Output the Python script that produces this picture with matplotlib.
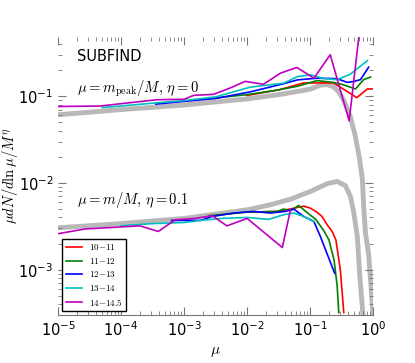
import numpy as np
import matplotlib
matplotlib.use('Agg')
import matplotlib.pyplot as plt

plt.rcParams['mathtext.fontset'] = 'cm'

# model curves (gray), log10(mu) and values
gray_top_lx = [-5, -4, -3, -2, -1.5, -1.0, -0.835, -0.73, -0.63, -0.55, -0.47, -0.36, -0.28, -0.215,
               -0.17, -0.146, -0.12, -0.07, -0.03, 0.0]
gray_top_y = [0.061, 0.070, 0.079, 0.093, 0.104, 0.120, 0.134, 0.136, 0.128, 0.113, 0.091, 0.058, 0.034,
              0.019, 0.011, 0.0049, 0.0026, 0.0015, 0.0006, 0.0003]
gray_bot_lx = [-5, -4, -3, -2, -1.63, -1.31, -0.99, -0.73, -0.57, -0.44, -0.36, -0.305, -0.25, -0.21, -0.16]
gray_bot_y = [0.00304, 0.0034, 0.0039, 0.0049, 0.0056, 0.0065, 0.0080, 0.0098, 0.0104, 0.0093, 0.0070,
              0.0045, 0.0024, 0.00083, 0.0003]

labels = [r'$10{-}11$', r'$11{-}12$', r'$12{-}13$', r'$13{-}14$', r'$14{-}14.5$']
colors = ['r', 'g', 'b', 'c', 'm']

# mu = m_peak/M, eta = 0
top_lx = [
    [-2.0, -1.5, -1.1, -0.63, -0.4, -0.26, -0.09, 0.0],
    [-2.6, -2.0, -1.5, -1.2, -0.89, -0.63, -0.47, -0.28, -0.15, -0.04],
    [-3.45, -3.0, -2.5, -1.95, -1.42, -1.2, -0.89, -0.57, -0.41, -0.3, -0.2, -0.07],
    [-4.3, -4.0, -3.5, -3.0, -2.5, -1.95, -1.42, -1.2, -0.99, -0.78, -0.57, -0.36, -0.09],
    [-5.0, -4.33, -3.43, -3.0, -2.85, -2.53, -2.27, -2.03, -1.74, -1.47, -1.21, -0.94, -0.68, -0.38, -0.2],
]
top_y = [
    [0.102, 0.118, 0.142, 0.142, 0.112, 0.096, 0.121, 0.121],
    [0.094, 0.104, 0.118, 0.130, 0.151, 0.144, 0.135, 0.121, 0.155, 0.166],
    [0.081, 0.087, 0.094, 0.112, 0.139, 0.154, 0.161, 0.159, 0.144, 0.148, 0.155, 0.216],
    [0.074, 0.077, 0.083, 0.089, 0.098, 0.127, 0.141, 0.168, 0.176, 0.159, 0.155, 0.179, 0.257],
    [0.076, 0.077, 0.091, 0.092, 0.102, 0.105, 0.124, 0.148, 0.137, 0.184, 0.214, 0.161, 0.30, 0.052, 0.70],
]

# mu = m/M, eta = 0.1
bot_lx = [
    [-2.0, -1.5, -1.10, -0.99, -0.89, -0.81, -0.73, -0.65, -0.59, -0.52, -0.465],
    [-2.6, -2.0, -1.52, -1.42, -1.31, -1.18, -1.07, -0.91, -0.78, -0.70, -0.62, -0.57, -0.545],
    [-3.2, -2.74, -2.556, -2.21, -1.9, -1.63, -1.39, -1.26, -1.10, -0.94, -0.835, -0.755, -0.61],
    [-4.0, -3.5, -3.0, -2.74, -2.4, -2.0, -1.66, -1.42, -1.26, -1.10, -0.94],
    [-5.0, -4.57, -3.70, -3.41, -3.14, -2.82, -2.556, -2.32, -2.0, -1.44, -1.31],
]
bot_y = [
    [0.0046, 0.0047, 0.0054, 0.0051, 0.0046, 0.0041, 0.0033, 0.00276, 0.0022, 0.0010, 0.00032],
    [0.0042, 0.0046, 0.0047, 0.0050, 0.0048, 0.0055, 0.0047, 0.0038, 0.0028, 0.0022, 0.0013, 0.00065, 0.00032],
    [0.0037, 0.0037, 0.0041, 0.0045, 0.0047, 0.0045, 0.0047, 0.0050, 0.0041, 0.0036, 0.0024, 0.0017, 0.00091],
    [0.0032, 0.0034, 0.0035, 0.0037, 0.0039, 0.0040, 0.0038, 0.0043, 0.0045, 0.0041, 0.0036],
    [0.0026, 0.00295, 0.0032, 0.00276, 0.00376, 0.0039, 0.0042, 0.0032, 0.0039, 0.0018, 0.0050],
]

fig = plt.figure(figsize=(4.15, 3.63), dpi=100)
ax = fig.add_axes([0.14, 0.132, 0.759, 0.766])

ax.plot(10 ** np.array(gray_top_lx), gray_top_y, color='#b8b8b8', lw=3.5, zorder=1)
ax.plot(10 ** np.array(gray_bot_lx), gray_bot_y, color='#b8b8b8', lw=3.5, zorder=1)

for i in range(5):
    ax.plot(10 ** np.array(top_lx[i]), top_y[i], color=colors[i], lw=1.2, zorder=2)
    ax.plot(10 ** np.array(bot_lx[i]), bot_y[i], color=colors[i], lw=1.2, zorder=2, label=labels[i])

ax.set_xscale('log')
ax.set_yscale('log')
ax.set_xlim(1e-5, 1)
ax.set_ylim(3.0e-4, 0.48)

for s in ['top', 'right', 'left']:
    ax.spines[s].set_visible(False)
ax.spines['bottom'].set_color('#777777')
ax.tick_params(which='both', direction='in', top=True, right=True, color='#777777', labelsize=10.5)
ax.tick_params(which='major', length=6)
ax.tick_params(which='minor', length=3)

ax.text(0.06, 0.93, 'SUBFIND', transform=ax.transAxes, fontsize=10.5, va='center')
ax.text(0.06, 0.80, r'$\mu = m_{\rm peak}/M,\, \eta = 0$', transform=ax.transAxes, fontsize=10.5)
ax.text(0.06, 0.40, r'$\mu = m/M,\, \eta = 0.1$', transform=ax.transAxes, fontsize=10.5)

ax.set_xlabel(r'$\mu$', fontsize=11)
ax.set_ylabel(r'$\mu dN/d\ln\mu/M^\eta$', fontsize=10.5)
ax.yaxis.set_label_coords(-0.122, 0.5)

leg = ax.legend(loc='lower left', bbox_to_anchor=(0.013, 0.014), borderaxespad=0, fontsize=6.5,
                handlelength=1.8, labelspacing=0.4, fancybox=False, framealpha=1)
leg.get_frame().set_edgecolor('black')

fig.savefig('out.png', dpi=100)
